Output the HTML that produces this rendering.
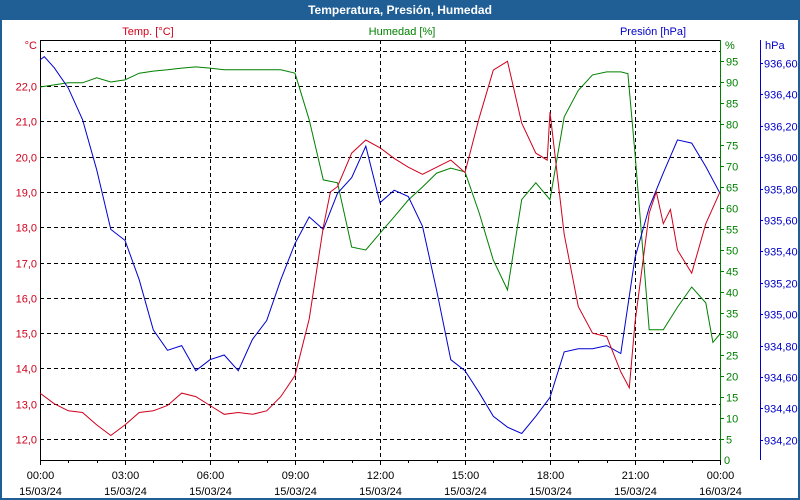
<!DOCTYPE html>
<html><head><meta charset="utf-8"><style>
body{margin:0;background:#fff}
svg{display:block;font-family:"Liberation Sans",sans-serif}
</style></head><body>
<svg id="c" width="800" height="500" viewBox="0 0 800 500">
<rect x="0" y="0" width="800" height="500" fill="#1f5f96"/>
<rect x="2" y="20" width="796" height="478" fill="#fff"/>
<text x="400" y="14" text-anchor="middle" fill="#fff" font-weight="bold" font-size="12">Temperatura, Presión, Humedad</text>
<text x="148" y="35" text-anchor="middle" fill="#d0001c" font-size="11">Temp. [°C]</text>
<text x="402" y="35" text-anchor="middle" fill="#008000" font-size="11">Humedad [%]</text>
<text x="653" y="35" text-anchor="middle" fill="#0000c8" font-size="11">Presión [hPa]</text>
<text x="37" y="49" text-anchor="end" fill="#d0001c" font-size="11">°C</text>
<text x="725" y="49" fill="#008000" font-size="11">%</text>
<text x="765" y="49" fill="#0000c8" font-size="11">hPa</text>
<g id="grid"></g><g id="axes"></g><g id="series"></g>
</svg>
<script>
const tempTicks=[12,13,14,15,16,17,18,19,20,21,22,23];
const humTicks=[5,10,15,20,25,30,35,40,45,50,55,60,65,70,75,80,85,90,95];
const presTicks=[934.2,934.4,934.6,934.8,935.0,935.2,935.4,935.6,935.8,936.0,936.2,936.4,936.6];
const hourTicks=[0,3,6,9,12,15,18,21,24];
const hourLabels=["00:00","03:00","06:00","09:00","12:00","15:00","18:00","21:00","00:00"];
const dateLabels=["15/03/24","15/03/24","15/03/24","15/03/24","15/03/24","15/03/24","15/03/24","15/03/24","16/03/24"];
const tempHours=[0,0.5,1,1.5,2,2.5,3,3.5,4,4.5,5,5.5,6,6.5,7,7.5,8,8.5,9,9.5,10,10.25,10.5,11,11.5,12,12.5,13,13.5,14,14.5,15,15.5,16,16.5,17,17.5,17.9,18,18.5,19,19.5,20,20.5,20.8,21,21.5,21.75,22,22.25,22.5,23,23.5,24];
const tempVals=[13.3,13.0,12.8,12.75,12.4,12.1,12.4,12.75,12.8,12.95,13.3,13.2,12.95,12.7,12.75,12.7,12.8,13.2,13.8,15.4,18.0,19.0,19.15,20.1,20.47,20.25,19.95,19.7,19.5,19.7,19.9,19.55,21.1,22.45,22.7,20.95,20.1,19.9,21.26,17.8,15.75,15.0,14.9,13.9,13.45,15.3,18.4,19.0,18.1,18.5,17.35,16.7,18.1,19.0];
const humHours=[0,0.5,1,1.5,2,2.5,3,3.5,4,4.5,5,5.5,6,6.5,7,8.5,9,9.5,10,10.5,11,11.5,12,12.5,13,13.5,14,14.5,15,15.5,16,16.5,17,17.5,18,18.5,19,19.5,20,20.5,20.75,21,21.5,22,22.5,23,23.5,23.75,24];
const humVals=[88.8,89.3,89.8,89.8,91,90,90.5,92.1,92.6,92.9,93.3,93.6,93.3,92.9,92.9,92.9,92.1,81,66.7,66,50.7,50,54,57.9,61.9,65,68.3,69.5,68.6,58.8,47.6,40.5,62,66,62,81.7,88,91.7,92.4,92.4,92,73,31,31,36.4,41.2,37.4,28,30];
const presHours=[0,0.15,0.5,1,1.5,2,2.5,3,3.5,4,4.5,5,5.5,6,6.5,7,7.5,8,8.5,9,9.5,10,10.5,11,11.5,12,12.5,13,13.5,14,14.5,15,15.5,16,16.5,17,17.5,18,18.5,19,19.5,20,20.5,21,21.5,22,22.5,23,23.5,24];
const presVals=[936.62,936.64,936.57,936.44,936.24,935.92,935.54,935.47,935.22,934.9,934.77,934.8,934.64,934.71,934.74,934.64,934.84,934.96,935.22,935.45,935.62,935.54,935.77,935.87,936.07,935.71,935.79,935.75,935.56,935.15,934.71,934.64,934.5,934.35,934.28,934.24,934.35,934.47,934.76,934.78,934.78,934.8,934.75,935.36,935.68,935.9,936.11,936.09,935.94,935.77];

const NS="http://www.w3.org/2000/svg";
const X0=40,X1=720,Y0=40,Y1=460;
const xS=h=>X0+h*(X1-X0)/24;
const yT=t=>86+(22-t)*35.3;
const yH=v=>460-v*4.2;
const yP=p=>63+(936.6-p)*157;
function mk(tag,attrs,parent,txt){const e=document.createElementNS(NS,tag);for(const k in attrs)e.setAttribute(k,attrs[k]);if(txt!==undefined)e.textContent=txt;parent.appendChild(e);return e;}
const grid=document.getElementById('grid'),axes=document.getElementById('axes'),ser=document.getElementById('series');
const fmt=(v,d)=>v.toFixed(d).replace('.',',');
tempTicks.forEach(t=>{
  const y=Math.round(yT(t))+0.5;
  const l=mk('line',{x1:X0,x2:X1,y1:y,y2:y,stroke:'#000','stroke-dasharray':'4,3'},grid);
  
  
  if(t<23){const tx=mk('text',{x:37,y:y+4,'text-anchor':'end',fill:'#d0001c','font-size':11},axes,fmt(t,1));
  
  }
});
hourTicks.forEach((h,i)=>{
  const x=Math.round(xS(h))+0.5;
  if(i>0&&i<8){const l=mk('line',{x1:x,x2:x,y1:Y0,y2:Y1,stroke:'#000','stroke-dasharray':'4,3'},grid);
  
  }
  const a=mk('text',{x:x,y:479,'text-anchor':'middle',fill:'#000','font-size':11},axes,hourLabels[i]);
  
  
  const b=mk('text',{x:x,y:495,'text-anchor':'middle',fill:'#000','font-size':11},axes,dateLabels[i]);
  
  
});
for(let h=0;h<=24;h++){const x=Math.round(xS(h))+0.5;mk('line',{x1:x,x2:x,y1:Y1,y2:Y1+(h%3?3:5),stroke:'#000'},axes);}
mk('line',{x1:X0+.5,x2:X0+.5,y1:Y0,y2:Y1,stroke:'#000'},axes);
mk('line',{x1:X0,x2:X1,y1:Y0+.5,y2:Y0+.5,stroke:'#000'},axes);
mk('line',{x1:X0,x2:X1,y1:Y1+.5,y2:Y1+.5,stroke:'#000'},axes);
mk('line',{x1:X1+.5,x2:X1+.5,y1:Y0,y2:Y1,stroke:'#008000'},axes);
humTicks.forEach(v=>{const y=Math.round(yH(v))+.5;mk('line',{x1:X1,x2:X1+4,y1:y,y2:y,stroke:'#008000'},axes);
  const t=mk('text',{x:726,y:y+4,fill:'#008000','font-size':11},axes,String(v));
  
  });
mk('text',{x:724,y:464,fill:'#008000','font-size':11},axes,'0');
mk('line',{x1:760.5,x2:760.5,y1:Y0,y2:Y1,stroke:'#0000c8'},axes);
presTicks.forEach(p=>{const y=Math.round(yP(p))+.5;mk('line',{x1:760,x2:763,y1:y,y2:y,stroke:'#0000c8'},axes);
  const t=mk('text',{x:764,y:y+4,fill:'#0000c8','font-size':11},axes,fmt(p,2));
  
  });
function line(hs,vs,ys,col,name){const d=hs.map((h,i)=>(i?'L':'M')+xS(h).toFixed(1)+','+ys(vs[i]).toFixed(1)).join('');
  const p=mk('path',{d:d,fill:'none',stroke:col,'stroke-width':1},ser);
  
  }
line(humHours,humVals,yH,'#008000','humidity-line');
line(presHours,presVals,yP,'#0000d0','pressure-line');
line(tempHours,tempVals,yT,'#d0001c','temperature-line');
</script>
</body></html>
